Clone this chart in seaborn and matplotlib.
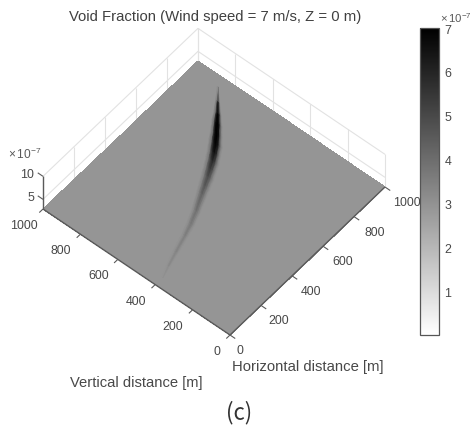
"""Void fraction map drawn as an oblique floor plane with a seaborn heatmap."""
import matplotlib.pyplot as plt
import numpy as np
import seaborn as sns
from matplotlib.transforms import Affine2D

FONT = ["Liberation Sans", "DejaVu Sans"]
TEXT = "#484848"

# values are in units of 1e-7
VMIN, VMAX = 0.0, 7.0
FLOOR_LEVEL = 2.9
floor_values = [[2.9, 2.9], [2.9, 2.9]]

plume_x = [950, 890, 842, 801, 760, 718, 678, 642, 604, 566, 522, 483, 400, 334, 271, 183, 108, 50]
plume_y = [853, 804, 765, 734, 703, 673, 648, 627, 608, 589, 569, 552, 514, 488, 468, 443, 421, 402]
plume_halfwidth = [2, 13, 21, 29, 32, 37, 36, 36, 34, 33, 30, 27, 22, 20, 16, 14, 10, 4]
plume_offsets = [-1.0, -0.66, -0.33, 0.0, 0.33, 0.66, 1.0]
plume_values = [
    [2.9, 2.9, 2.9, 2.9, 2.9, 2.9, 2.9],
    [2.9, 3.6, 5.2, 6.0, 5.2, 3.6, 2.9],
    [2.9, 3.8, 6.2, 6.9, 6.2, 3.8, 2.9],
    [2.9, 3.9, 6.6, 7.0, 6.6, 3.9, 2.9],
    [2.9, 3.9, 6.6, 7.0, 6.6, 3.9, 2.9],
    [2.9, 3.8, 6.3, 6.9, 6.3, 3.8, 2.9],
    [2.9, 3.7, 5.8, 6.5, 5.8, 3.7, 2.9],
    [2.9, 3.6, 5.2, 5.9, 5.2, 3.6, 2.9],
    [2.9, 3.5, 4.8, 5.4, 4.8, 3.5, 2.9],
    [2.9, 3.4, 4.4, 4.9, 4.4, 3.4, 2.9],
    [2.9, 3.3, 4.1, 4.6, 4.1, 3.3, 2.9],
    [2.9, 3.3, 3.9, 4.3, 3.9, 3.3, 2.9],
    [2.9, 3.2, 3.6, 3.9, 3.6, 3.2, 2.9],
    [2.9, 3.1, 3.45, 3.65, 3.45, 3.1, 2.9],
    [2.9, 3.05, 3.3, 3.5, 3.3, 3.05, 2.9],
    [2.9, 3.0, 3.2, 3.35, 3.2, 3.0, 2.9],
    [2.9, 2.95, 3.1, 3.2, 3.1, 2.95, 2.9],
    [2.9, 2.9, 2.9, 2.9, 2.9, 2.9, 2.9],
]

distance_ticks = [0, 200, 400, 600, 800, 1000]
z_ticks = [5, 10]
colorbar_ticks = [1, 2, 3, 4, 5, 6, 7]

# pixel layout of the oblique view
ORIGIN = (230.0, 336.0)
X_VEC = (155.0, -148.0)
Y_VEC = (-187.0, -126.0)
Z_PX = 4.6

W, H = 471, 427


def project(x, y, z=FLOOR_LEVEL):
    px = ORIGIN[0] + x / 1000 * X_VEC[0] + y / 1000 * Y_VEC[0]
    py = ORIGIN[1] + x / 1000 * X_VEC[1] + y / 1000 * Y_VEC[1] - (z - FLOOR_LEVEL) * Z_PX
    return px, py


def line3(ax, a, b, color, lw, zorder=1):
    pa, pb = project(*a), project(*b)
    ax.plot([pa[0], pb[0]], [pa[1], pb[1]], color=color, lw=lw, zorder=zorder,
            solid_capstyle="butt")


sns.set_theme(style="white")
plt.rcParams["font.family"] = FONT
plt.rcParams["mathtext.default"] = "regular"

fig = plt.figure(figsize=(W / 100, H / 100), dpi=100)
ax = fig.add_axes([0, 0, 1, 1])
cax = fig.add_axes([420 / W, 1 - 336 / H, 19 / W, 307 / H])

cmap = sns.blend_palette(["#ffffff", "#000000"], n_colors=256, as_cmap=True)
sns.heatmap(
    np.array(floor_values), ax=ax, cmap=cmap, vmin=VMIN, vmax=VMAX,
    xticklabels=False, yticklabels=False, cbar_ax=cax,
    cbar_kws={"ticks": colorbar_ticks},
)
ax.set_xlim(0, W)
ax.set_ylim(H, 0)
ax.axis("off")

# heatmap cells run 0..2, map them onto the parallelogram
floor_tf = Affine2D.from_values(X_VEC[0] / 1000, X_VEC[1] / 1000, Y_VEC[0] / 1000, Y_VEC[1] / 1000,
                                ORIGIN[0], ORIGIN[1]) + ax.transData
mesh = ax.collections[0]
mesh.set_transform(Affine2D().scale(500) + floor_tf)
mesh.set_zorder(2)

centre_x = np.array(plume_x, dtype=float)
centre_y = np.array(plume_y, dtype=float)
half = np.array(plume_halfwidth, dtype=float)
offsets = np.array(plume_offsets)
mesh_x = np.repeat(centre_x[:, None], len(offsets), axis=1)
mesh_y = centre_y[:, None] + half[:, None] * offsets[None, :]
ax.pcolormesh(mesh_x, mesh_y, np.array(plume_values), shading="gouraud", cmap=cmap,
              vmin=VMIN, vmax=VMAX, transform=floor_tf, zorder=3)
ax.set_xlim(0, W)
ax.set_ylim(H, 0)

# back walls
WALL = "#e2e2e2"
for z in z_ticks:
    line3(ax, (0, 1000, z), (1000, 1000, z), WALL, 0.8)
    line3(ax, (1000, 1000, z), (1000, 0, z), WALL, 0.8)
for t in distance_ticks:
    line3(ax, (t, 1000, FLOOR_LEVEL), (t, 1000, 10), WALL, 0.8)
    line3(ax, (1000, t, FLOOR_LEVEL), (1000, t, 10), WALL, 0.8)

# axes and ticks
AXIS = "#5a5a5a"
line3(ax, (0, 0), (1000, 0), AXIS, 1.0, 4)
line3(ax, (0, 0), (0, 1000), AXIS, 1.0, 4)
line3(ax, (0, 1000, FLOOR_LEVEL), (0, 1000, 10), AXIS, 1.0, 4)
for t in distance_ticks:
    line3(ax, (t, 0), (t, -28), AXIS, 0.8, 4)
    line3(ax, (0, t), (-24, t), AXIS, 0.8, 4)
    x0, y0 = project(t, 0)
    x_shift = 10 if t == 0 else 17 + t * 0.005
    ax.text(x0 + x_shift, y0 + 15, str(t), ha="center", va="center", fontsize=8.9, color=TEXT)
    x0, y0 = project(0, t)
    y_shift = -13 if t == 0 else -19.5
    ax.text(x0 + y_shift, y0 + 16, str(t), ha="center", va="center", fontsize=8.9, color=TEXT)
for z in z_ticks:
    line3(ax, (0, 1000, z), (0, 1028, z), AXIS, 0.8, 4)
    x0, y0 = project(0, 1000, z)
    ax.text(x0 - 9, y0 - 2.5, str(z), ha="right", va="center", fontsize=8.9, color=TEXT)

ax.text(8, 154, r"$\times\,10^{-7}$", ha="left", va="center", fontsize=8.6, color="#5a5a5a")
ax.text(215, 17, "Void Fraction (Wind speed = 7 m/s, Z = 0 m)", ha="center", va="center",
        fontsize=10.7, color="#404040")
ax.text(136, 383, "Vertical distance [m]", ha="center", va="center", fontsize=10.6, color=TEXT)
ax.text(308, 367, "Horizontal distance [m]", ha="center", va="center", fontsize=10.7, color=TEXT)
ax.text(239, 413, "(c)", ha="center", va="center", fontsize=16, color="#333333",
        family=["Noto Sans CJK KR", "DejaVu Sans"])

# colorbar
cbar = mesh.colorbar
cbar.outline.set_visible(True)
cbar.outline.set_linewidth(0.9)
cbar.outline.set_edgecolor("#555555")
cbar.set_ticklabels([str(t) for t in colorbar_ticks])
cax.tick_params(axis="y", direction="in", length=2.5, width=0.7, color="#555555",
                labelsize=8.9, labelcolor=TEXT, pad=4, right=True, left=False)
ax.text(440, 18, r"$\times\,10^{-7}$", ha="left", va="center", fontsize=8.2, color="#5a5a5a")

fig.savefig("out.png", dpi=100)
plt.close(fig)
